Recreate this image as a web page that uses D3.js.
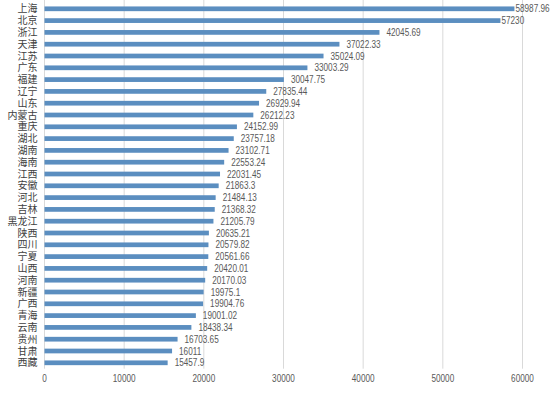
<!DOCTYPE html>
<html>
<head>
<meta charset="utf-8">
<script src="https://cdn.jsdelivr.net/npm/d3@7"></script>
<style>
  body { margin: 0; background: #fff; }
  .num { font-family: "Liberation Sans", Arial, sans-serif; font-size: 10px; fill: #595959; }
  .cat { font-family: "Noto Sans CJK SC", sans-serif; font-size: 10px; fill: #404040; }
</style>
</head>
<body>
<svg id="chart" width="553" height="398"></svg>
<script>
var provinces = ["上海", "北京", "浙江", "天津", "江苏", "广东", "福建", "辽宁", "山东", "内蒙古",
  "重庆", "湖北", "湖南", "海南", "江西", "安徽", "河北", "吉林", "黑龙江", "陕西",
  "四川", "宁夏", "山西", "河南", "新疆", "广西", "青海", "云南", "贵州", "甘肃", "西藏"];
var incomes = [58987.96, 57230, 42045.69, 37022.33, 35024.09, 33003.29, 30047.75, 27835.44, 26929.94, 26212.23,
  24152.99, 23757.18, 23102.71, 22553.24, 22031.45, 21863.3, 21484.13, 21368.32, 21205.79, 20635.21,
  20579.82, 20561.66, 20420.01, 20170.03, 19975.1, 19904.76, 19001.02, 18438.34, 16703.65, 16011, 15457.9];
var xTicks = [0, 10000, 20000, 30000, 40000, 50000, 60000];

var data = provinces.map(function(p, i) { return { name: p, value: incomes[i] }; });

var svg = d3.select("#chart");
var plotLeft = 44.5, plotRight = 522.5, plotTop = 2.9, plotBottom = 368.7;
var narrow = 0.82; // the original uses a narrow font for numbers

var x = d3.scaleLinear().domain([0, 60000]).range([plotLeft, plotRight]);
var y = d3.scaleBand().domain(provinces).range([plotTop, plotBottom])
    .paddingInner(0.6).paddingOuter(0.3);

// vertical grid lines
svg.append("g")
    .selectAll("line")
    .data(xTicks)
    .enter().append("line")
    .attr("x1", function(d) { return x(d); })
    .attr("x2", function(d) { return x(d); })
    .attr("y1", 0)
    .attr("y2", plotBottom)
    .attr("stroke", "#d9d9d9")
    .attr("stroke-width", 1);

// x tick labels
svg.append("g")
    .selectAll("text")
    .data(xTicks)
    .enter().append("text")
    .attr("class", "num")
    .attr("transform", function(d) { return "translate(" + x(d) + ",382) scale(" + narrow + ",1)"; })
    .attr("text-anchor", "middle")
    .text(function(d) { return d; });

// bars
svg.append("g")
    .selectAll("rect")
    .data(data)
    .enter().append("rect")
    .attr("x", x(0))
    .attr("y", function(d) { return y(d.name); })
    .attr("width", function(d) { return x(d.value) - x(0); })
    .attr("height", y.bandwidth())
    .attr("fill", "#5b8ec0");

// category labels
svg.append("g")
    .selectAll("text")
    .data(data)
    .enter().append("text")
    .attr("class", "cat")
    .attr("x", x(0) - 7)
    .attr("y", function(d) { return y(d.name) + y.bandwidth() / 2; })
    .attr("dy", "0.36em")
    .attr("text-anchor", "end")
    .text(function(d) { return d.name; });

// value labels (the top two get squeezed against the bars, like the original)
svg.append("g")
    .selectAll("text")
    .data(data)
    .enter().append("text")
    .attr("class", "num")
    .attr("transform", function(d) {
        var lx = x(d.value) + (d.value > 50000 ? 1 : 7);
        var ly = y(d.name) + y.bandwidth() / 2;
        return "translate(" + lx + "," + ly + ") scale(" + narrow + ",1)";
    })
    .attr("dy", "0.36em")
    .text(function(d) { return d.value; });
</script>
</body>
</html>
